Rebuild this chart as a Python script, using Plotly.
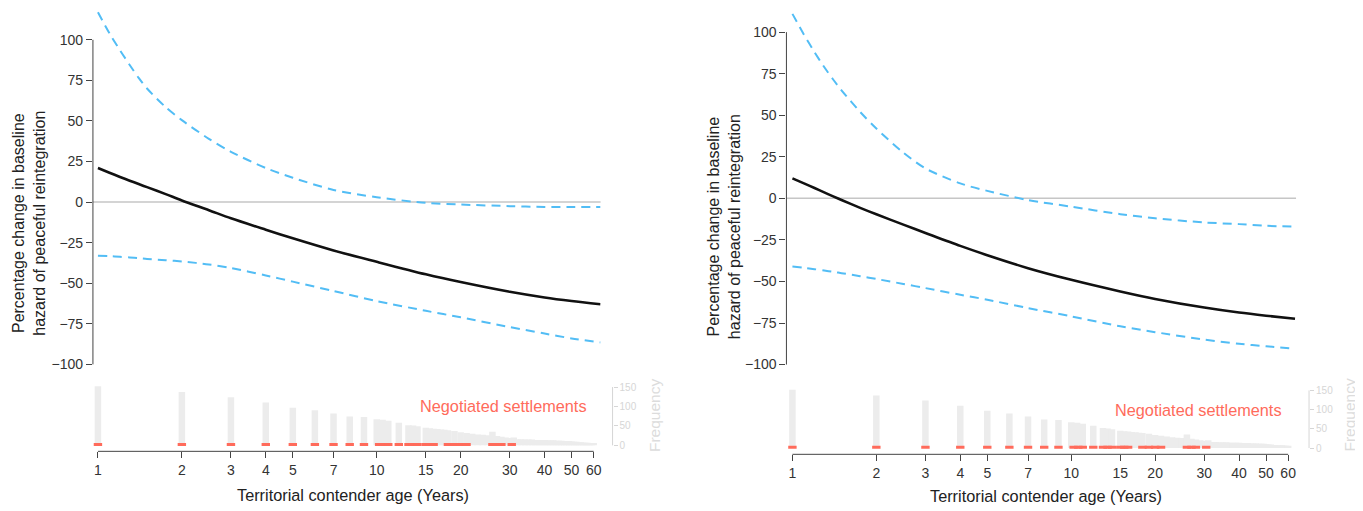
import plotly.graph_objects as go

# ---------------- data ----------------
curve_ages = [1, 1.1, 1.2, 1.3, 1.4, 1.5, 1.75, 2, 2.5, 3, 4, 5, 7, 10, 15, 20, 30, 40, 50, 63.5]

left_est = [21, 18.1, 15.5, 13.2, 11.1, 9.2, 4.9, 1.0, -5.0, -10.0, -17.0, -22.3, -29.8, -36.8,
            -44.5, -49.3, -55.3, -58.8, -61, -63]
left_upper = [117, 104, 93.5, 84.5, 76.5, 70, 58.5, 50.5, 39, 31, 21, 15, 7.5, 3, -0.5, -1.5,
              -2.5, -3, -3, -3]
left_lower = [-33, -33.3, -33.7, -34.1, -34.5, -35, -35.8, -36.6, -38.4, -40.6, -45.2, -49,
              -54.8, -61, -67, -71, -77, -81, -84, -86.5]

right_est = [12, 9, 6.2, 3.6, 1.2, -1, -5.7, -9.6, -15.8, -20.8, -28.6, -34.2, -42, -49, -56,
             -60.5, -65.7, -68.7, -70.6, -72.4]
right_upper = [111, 98.5, 88, 79, 71.5, 65, 52, 42, 27.5, 18, 9, 4.5, -1, -5, -9.5, -12, -14.5,
               -15.5, -16.5, -17]
right_lower = [-41, -41.8, -42.6, -43.4, -44.2, -45, -46.8, -48.5, -51.5, -54, -58, -61, -66, -71,
               -77, -80.5, -85, -87.5, -89, -90.5]

hist_ages = [1, 2, 3, 4, 5, 6, 7, 8, 9, 10, 10.5, 11, 12, 13, 13.5, 14, 15, 15.5, 16, 16.5, 17, 17.5,
             18, 19, 20, 21, 22, 23, 24, 25, 26, 27, 28, 29, 30, 31, 32, 33, 34, 35, 36, 37, 38, 39,
             40, 41, 42, 43, 44, 45, 46, 47, 48, 49, 50, 51, 52, 53, 54, 55, 56, 57, 58, 59, 60]
hist_freq = [152, 137, 124, 110, 97, 90, 82, 74, 73, 67, 66, 63, 58, 52, 51, 49, 45, 44, 43, 42, 41, 40,
             39, 37, 34, 32, 30, 28, 27, 26, 35, 24, 22, 20, 19, 20, 16, 16, 15, 15, 15, 14, 14, 14,
             14, 13, 13, 13, 12, 12, 12, 11, 11, 11, 10, 9, 9, 8, 8, 7, 7, 7, 6, 6, 6]

settle_ages = [1, 2, 3, 4, 5, 6, 7, 8, 9, 10.2, 10.6, 11, 12, 13, 13.5, 14, 15, 15.5, 16,
               18, 19, 20, 21, 26, 27, 28, 30.5]

x_ticks = [1, 2, 3, 4, 5, 7, 10, 15, 20, 30, 40, 50, 60]
y_ticks = [-100, -75, -50, -25, 0, 25, 50, 75, 100]
freq_ticks = [0, 50, 100, 150]

x_title = "Territorial contender age (Years)"
y_title = "Percentage change in baseline<br>hazard of peaceful reintegration"
settle_label = "Negotiated settlements"
freq_label = "Frequency"

# ---------------- styling / geometry ----------------
VW, VH = 1363, 511          # browser window
PAGE_MARGIN = 8             # default body margin of the html page
W, H = VW - PAGE_MARGIN, VH - PAGE_MARGIN
PPD = 279.0                 # pixels per decade of age
FONT = "Liberation Sans, Arial, Helvetica, sans-serif"
BLUE = "#52bdf5"
RED = "#ff6b5b"
HISTC = "#ececec"
AXC = "#444444"
FREQC = "#d6d6d6"


def fx(px):
    return (px - PAGE_MARGIN) / W


def fy(py):
    return 1 - (py - PAGE_MARGIN) / H


panels = [
    dict(est=left_est, up=left_upper, lo=left_lower,
         x0=93, x1=601, age1=98, top=9, bot=372, y100=40, ym100=366.5,
         h_top=380, h_axis=454, h0=448, h150=389.3, freq_x=613, freq_lab_x=655,
         ytx=29, yty=224, xtx=353, xty=498, negx=504, negy=408,
         ax=("x", "y", "x2", "y2", "y5")),
    dict(est=right_est, up=right_upper, lo=right_lower,
         x0=787, x1=1297, age1=793, top=9, bot=372, y100=32.3, ym100=366.7,
         h_top=380, h_axis=457, h0=450.7, h150=392.7, freq_x=1310, freq_lab_x=1351,
         ytx=724, yty=228, xtx=1047, xty=499, negx=1199, negy=412,
         ax=("x3", "y3", "x4", "y4", "y6")),
]

fig = go.Figure()
layout = dict(width=W, height=H, margin=dict(l=0, r=0, t=0, b=0),
              paper_bgcolor="white", plot_bgcolor="white", showlegend=False,
              font=dict(family=FONT, color="#333333"))
shapes, annotations = [], []


def axkey(name):
    return name[0] + "axis" + name[1:]


for p in panels:
    xm, ym, xh, yh, yf = p["ax"]
    xr = [(p["x0"] - p["age1"]) / PPD, (p["x1"] - p["age1"]) / PPD]
    unit = (p["ym100"] - p["y100"]) / 200.0
    ymr = [100 - (p["bot"] - p["y100"]) / unit, 100 - (p["top"] - p["y100"]) / unit]
    hunit = (p["h0"] - p["h150"]) / 150.0
    yhr = [(p["h0"] - p["h_axis"]) / hunit, (p["h0"] - p["h_top"]) / hunit]
    xdom = [fx(p["x0"]), fx(p["x1"])]

    layout[axkey(xm)] = dict(type="log", range=xr, domain=xdom, anchor=ym, visible=False)
    layout[axkey(ym)] = dict(range=ymr, domain=[fy(p["bot"]), fy(p["top"])], anchor=xm,
                             tickvals=y_ticks, ticks="outside", ticklen=6, tickcolor=AXC,
                             showgrid=False, zeroline=False, showline=False,
                             tickfont=dict(size=14, color="#333333"))
    layout[axkey(xh)] = dict(type="log", range=xr, domain=xdom, anchor=yh,
                             tickvals=x_ticks, ticktext=[str(t) for t in x_ticks],
                             ticks="outside", ticklen=6, tickcolor=AXC,
                             showgrid=False, zeroline=False, showline=False,
                             tickfont=dict(size=14, color="#333333"))
    layout[axkey(yh)] = dict(range=yhr, domain=[fy(p["h_axis"]), fy(p["h_top"])], anchor=xh,
                             visible=False)
    layout[axkey(yf)] = dict(range=yhr, overlaying=yh, anchor="free", position=fx(p["freq_x"]),
                             side="right", tickvals=freq_ticks, ticks="outside", ticklen=4,
                             tickcolor=FREQC, showgrid=False, zeroline=False, showline=False,
                             tickfont=dict(size=10, color=FREQC))

    # histogram of observations
    hx, hy = [], []
    for a, f in zip(hist_ages, hist_freq):
        hx += [a, a, None]
        hy += [0, f, None]
    fig.add_trace(go.Scatter(x=hx, y=hy, mode="lines", xaxis=xh, yaxis=yh,
                             line=dict(color=HISTC, width=6.5), hoverinfo="skip"))
    # negotiated settlements rug
    fig.add_trace(go.Scatter(x=settle_ages, y=[2] * len(settle_ages), mode="markers",
                             xaxis=xh, yaxis=yf,
                             marker=dict(symbol="line-ew", size=6, line=dict(width=3, color=RED))))
    # curves
    for vals, col, w, dash in [(p["up"], BLUE, 2, "9px,6px"), (p["lo"], BLUE, 2, "9px,6px"),
                               (p["est"], "#111111", 2.6, "solid")]:
        fig.add_trace(go.Scatter(x=curve_ages, y=vals, mode="lines", xaxis=xm, yaxis=ym,
                                 line=dict(color=col, width=w, dash=dash, shape="spline",
                                           smoothing=0.8)))

    # reference line at zero and R-style axis lines
    shapes.append(dict(type="line", xref=xm + " domain", x0=0, x1=1, yref=ym, y0=0, y1=0,
                       line=dict(color="#c6c6c6", width=1.5), layer="below"))
    shapes.append(dict(type="line", xref=xm + " domain", x0=0, x1=0, yref=ym, y0=-100, y1=100,
                       line=dict(color=AXC, width=1)))
    shapes.append(dict(type="line", xref=xh, x0=x_ticks[0], x1=x_ticks[-1], yref="paper",
                       y0=fy(p["h_axis"]), y1=fy(p["h_axis"]), line=dict(color=AXC, width=1)))
    shapes.append(dict(type="line", xref="paper", x0=fx(p["freq_x"]), x1=fx(p["freq_x"]),
                       yref=yh, y0=freq_ticks[0], y1=freq_ticks[-1],
                       line=dict(color=FREQC, width=1)))

    annotations += [
        dict(text=settle_label, x=fx(p["negx"]), y=fy(p["negy"]), xref="paper", yref="paper",
             showarrow=False, font=dict(size=16.3, color=RED), xanchor="center", yanchor="middle"),
        dict(text=freq_label, x=fx(p["freq_lab_x"]), y=fy(418), xref="paper", yref="paper",
             showarrow=False, textangle=-90, font=dict(size=15.5, color="#dcdcdc"),
             xanchor="center", yanchor="middle"),
        dict(text=x_title, x=fx(p["xtx"]), y=fy(p["xty"]), xref="paper", yref="paper",
             showarrow=False, font=dict(size=16.3, color="#222222"),
             xanchor="center", yanchor="middle"),
        dict(text=y_title, x=fx(p["ytx"]), y=fy(p["yty"]), xref="paper", yref="paper",
             showarrow=False, textangle=-90, font=dict(size=16, color="#222222"),
             xanchor="center", yanchor="middle"),
    ]

layout["shapes"] = shapes
layout["annotations"] = annotations
fig.update_layout(**layout)
fig.write_html("out.html")
